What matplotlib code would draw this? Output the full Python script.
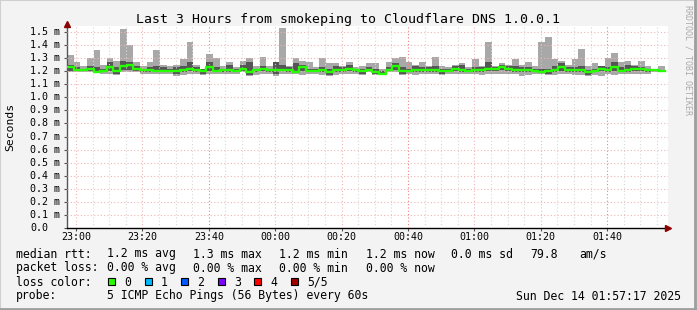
import matplotlib
matplotlib.use("Agg")
import matplotlib.pyplot as plt
import numpy as np
from matplotlib.patches import Rectangle
from matplotlib.lines import Line2D

# data: one sample every 2 minutes, minutes relative to 23:00
start_min = -2.72
step_min = 2.0
rtt_min = [1.19,1.19,1.19,1.19,1.19,1.18,1.18,1.17,1.19,1.19,1.19,1.18,1.18,1.18,1.18,
           1.18,1.16,1.17,1.18,1.18,1.17,1.18,1.18,1.18,1.18,1.18,1.19,1.16,1.17,1.18,
           1.18,1.16,1.18,1.18,1.18,1.17,1.18,1.18,1.17,1.16,1.17,1.18,1.18,1.18,1.17,
           1.19,1.17,1.17,1.19,1.19,1.17,1.18,1.17,1.18,1.18,1.18,1.17,1.18,1.18,1.18,
           1.18,1.18,1.17,1.18,1.18,1.18,1.18,1.18,1.16,1.17,1.18,1.18,1.17,1.17,1.18,
           1.18,1.17,1.17,1.16,1.17,1.16,1.18,1.17,1.18,1.18,1.18,1.18,1.18,1.19,1.19]
rtt_lo = [1.20,1.20,1.20,1.20,1.19,1.19,1.20,1.18,1.21,1.21,1.20,1.19,1.19,1.19,1.19,
          1.19,1.18,1.19,1.20,1.19,1.18,1.20,1.19,1.19,1.19,1.19,1.20,1.17,1.19,1.20,
          1.19,1.18,1.20,1.19,1.19,1.20,1.19,1.19,1.19,1.17,1.19,1.19,1.20,1.19,1.18,
          1.20,1.18,1.18,1.20,1.21,1.18,1.19,1.19,1.19,1.19,1.19,1.18,1.19,1.20,1.19,
          1.19,1.19,1.19,1.20,1.20,1.21,1.20,1.19,1.19,1.19,1.19,1.19,1.18,1.19,1.20,
          1.19,1.19,1.19,1.17,1.19,1.20,1.19,1.20,1.19,1.19,1.20,1.20,1.19,1.20,1.19]
rtt_med = [1.23,1.21,1.21,1.22,1.19,1.20,1.23,1.20,1.24,1.25,1.22,1.21,1.21,1.20,1.20,
           1.20,1.20,1.21,1.22,1.21,1.20,1.23,1.20,1.21,1.21,1.20,1.22,1.19,1.21,1.22,
           1.21,1.21,1.21,1.21,1.19,1.23,1.20,1.20,1.21,1.19,1.21,1.21,1.22,1.21,1.20,
           1.21,1.19,1.18,1.21,1.24,1.20,1.20,1.21,1.21,1.21,1.21,1.20,1.20,1.22,1.21,
           1.20,1.21,1.21,1.22,1.22,1.23,1.22,1.21,1.21,1.21,1.20,1.19,1.20,1.21,1.23,
           1.21,1.21,1.21,1.19,1.20,1.22,1.21,1.23,1.20,1.21,1.22,1.22,1.21,1.21,1.20]
rtt_hi = [1.25,1.23,1.22,1.24,1.23,1.22,1.27,1.23,1.28,1.27,1.24,1.22,1.23,1.24,1.23,
          1.22,1.23,1.24,1.27,1.23,1.22,1.27,1.23,1.22,1.25,1.22,1.25,1.27,1.22,1.24,
          1.22,1.27,1.25,1.23,1.26,1.25,1.22,1.22,1.23,1.22,1.24,1.23,1.25,1.22,1.22,
          1.23,1.22,1.20,1.23,1.26,1.23,1.22,1.24,1.23,1.23,1.24,1.22,1.22,1.24,1.26,
          1.22,1.23,1.23,1.27,1.23,1.25,1.24,1.24,1.23,1.23,1.22,1.22,1.22,1.24,1.26,
          1.23,1.23,1.24,1.21,1.22,1.24,1.23,1.27,1.23,1.25,1.24,1.23,1.22,1.22,1.21]
rtt_max = [1.32,1.27,1.24,1.30,1.36,1.25,1.30,1.28,1.52,1.40,1.27,1.24,1.27,1.36,1.25,
           1.24,1.25,1.29,1.42,1.25,1.22,1.33,1.30,1.24,1.27,1.23,1.28,1.30,1.24,1.31,
           1.24,1.27,1.53,1.24,1.30,1.28,1.27,1.23,1.30,1.26,1.26,1.24,1.27,1.23,1.24,
           1.26,1.26,1.22,1.27,1.30,1.31,1.27,1.25,1.27,1.24,1.31,1.24,1.23,1.25,1.25,
           1.23,1.29,1.24,1.42,1.24,1.26,1.25,1.29,1.25,1.27,1.24,1.42,1.46,1.29,1.28,
           1.25,1.29,1.37,1.24,1.26,1.24,1.30,1.34,1.27,1.28,1.25,1.28,1.24,1.22,1.24]

tick_pos = [0, 20, 40, 60, 80, 100, 120, 140, 160]
tick_labels = ["23:00", "23:20", "23:40", "00:00", "00:20", "00:40", "01:00", "01:20", "01:40"]
y_ticks = [0.0, 0.1, 0.2, 0.3, 0.4, 0.5, 0.6, 0.7, 0.8, 0.9, 1.0, 1.1, 1.2, 1.3, 1.4, 1.5]

loss_labels = ["0", "1", "2", "3", "4", "5/5"]
loss_colors = ["#26ff00", "#00b8ff", "#0059ff", "#7e00ff", "#ff0000", "#a10000"]

W, H = 697, 310
mono = "DejaVu Sans Mono"
plt.rcParams['font.family'] = mono


def px(x, y):
    return x / W, 1 - y / H


fig = plt.figure(figsize=(W / 100, H / 100), dpi=100, facecolor="#f3f3f3")

# 3d-ish frame
fig.patches.append(Rectangle((0, 0), 1, 1, transform=fig.transFigure, fill=False,
                             edgecolor="#cfcfcf", lw=1.5))
fig.add_artist(Line2D([0, 1], [0.003, 0.003], transform=fig.transFigure, color="#9e9e9e", lw=2))
fig.add_artist(Line2D([0.997, 0.997], [0, 1], transform=fig.transFigure, color="#9e9e9e", lw=2))

left, right, bottom, top = 67, 668, 228, 26
ax = fig.add_axes([left / W, 1 - bottom / H, (right - left) / W, (bottom - top) / H])
ax.set_facecolor("white")

n = len(rtt_med)
edges = start_min + step_min * np.arange(n + 1)


def ext(a):
    return np.append(a, a[-1])


light, dark = "#a8a8a8", "#555555"
ax.fill_between(edges, ext(rtt_min), ext(rtt_lo), step="post", color=light, lw=0, zorder=2)
ax.fill_between(edges, ext(rtt_lo), ext(rtt_med), step="post", color=dark, lw=0, zorder=2)
ax.fill_between(edges, ext(rtt_med), ext(rtt_hi), step="post", color=dark, lw=0, zorder=2)
ax.fill_between(edges, ext(rtt_hi), ext(rtt_max), step="post", color=light, lw=0, zorder=2)

# grid
for m in np.arange(0, 180, 5):
    if m % 20 == 0:
        col = "#f08080" if m % 60 == 40 else "#f0b4b4"
    else:
        col = "#d8d8d8"
    ax.axvline(m, color=col, lw=0.8, ls=(0, (1, 2)), zorder=3)
for v in y_ticks[1:]:
    ax.axhline(v, color="#f0b4b4", lw=0.8, ls=(0, (1, 2)), zorder=3)

ax.step(edges, ext(rtt_med), where="post", color=loss_colors[0], lw=1.7, zorder=4)

ax.set_xlim(start_min, start_min + (right - left) * 20 / 66.4)
ax.set_ylim(0, (bottom - top) / 130.7)

for s in ["top", "right"]:
    ax.spines[s].set_visible(False)
ax.spines["bottom"].set_color("#000000")
ax.spines["left"].set_color("#555555")
ax.spines["bottom"].set_linewidth(1)
ax.spines["left"].set_linewidth(1)
ax.plot([1.0], [0], marker=">", color="#8b0000", ms=4, transform=ax.transAxes, clip_on=False, zorder=5)
ax.plot([0], [1.01], marker="^", color="#8b0000", ms=4, transform=ax.transAxes, clip_on=False, zorder=5)

ax.set_xticks(tick_pos)
ax.set_xticklabels([])
ax.set_yticks(y_ticks)
ax.set_yticklabels([])
ax.tick_params(axis="both", length=2.5, width=0.8, color="#555555")

ytr = ax.get_yaxis_transform()
xtr = ax.get_xaxis_transform()
for v in y_ticks:
    lab = "0.0" if v == 0 else "%.1f m" % v
    ax.text((30 - left) / (right - left), v, lab, transform=ytr, ha="left", va="center",
            fontsize=7.2, color="#000000")
for p, lab in zip(tick_pos, tick_labels):
    ax.text(p, -9.5 / (bottom - top), lab, transform=xtr, ha="center", va="center",
            fontsize=7.2, color="#000000")

fig.text(*px(348, 19), "Last 3 Hours from smokeping to Cloudflare DNS 1.0.0.1",
         ha="center", va="center", fontsize=9.5)
fig.text(*px(10, 127), "Seconds", rotation=90, ha="center", va="center", fontsize=8.2)
fig.text(*px(688, 60), "RRDTOOL / TOBI OETIKER", rotation=270, ha="center", va="center",
         fontsize=6.0, color="#aaaaaa")

fs = 8.3
line1 = [(16, "median rtt:"), (107, "1.2 ms avg"), (193, "1.3 ms max"), (279, "1.2 ms min"),
         (366, "1.2 ms now"), (451, "0.0 ms sd"), (530, "79.8"), (579, "am/s")]
line2 = [(16, "packet loss:"), (107, "0.00 % avg"), (193, "0.00 % max"), (279, "0.00 % min"),
         (366, "0.00 % now")]
for x, t in line1:
    fig.text(*px(x, 254), t, ha="left", va="center", fontsize=fs)
for x, t in line2:
    fig.text(*px(x, 268), t, ha="left", va="center", fontsize=fs)

fig.text(*px(16, 282), "loss color:", ha="left", va="center", fontsize=fs)
for i, (lab, col) in enumerate(zip(loss_labels, loss_colors)):
    bx = 108 + i * 36.6
    fig.patches.append(Rectangle(px(bx, 284.5), 7 / W, 7 / H, transform=fig.transFigure,
                                 facecolor=col, edgecolor="black", lw=0.8))
    fig.text(*px(bx + 16, 282), lab, ha="left", va="center", fontsize=fs)

fig.text(*px(16, 296), "probe:", ha="left", va="center", fontsize=fs)
fig.text(*px(107, 296), "5 ICMP Echo Pings (56 Bytes) every 60s", ha="left", va="center", fontsize=fs)
fig.text(*px(681, 296), "Sun Dec 14 01:57:17 2025", ha="right", va="center", fontsize=fs)

fig.savefig("out.png", dpi=100, facecolor=fig.get_facecolor())
